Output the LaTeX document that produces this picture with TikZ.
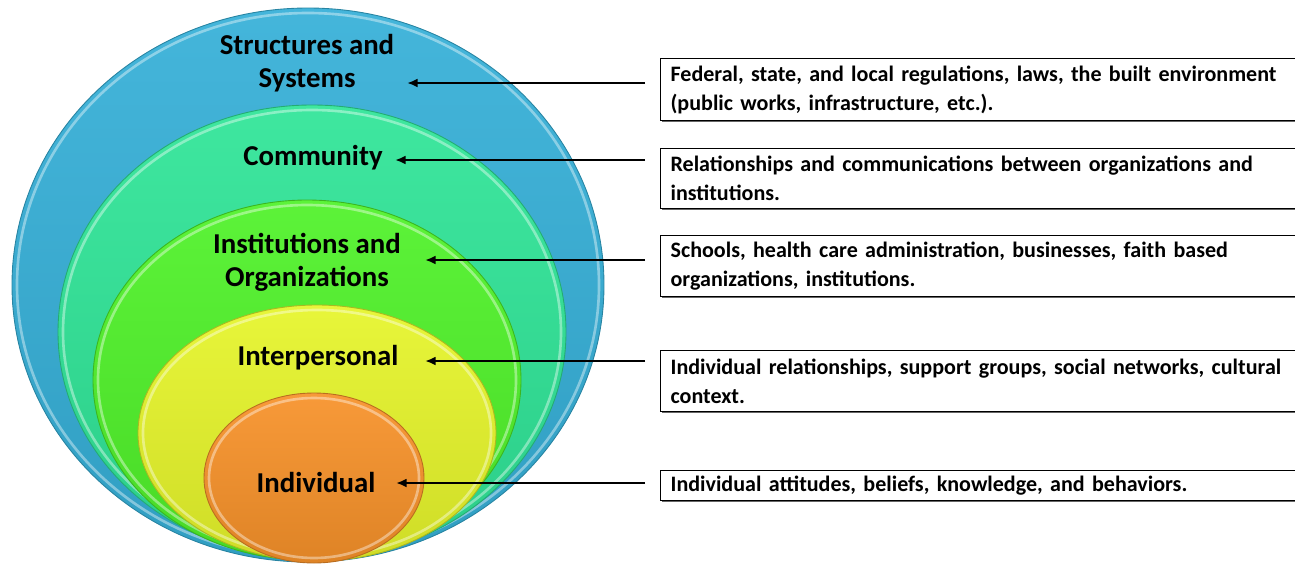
\documentclass[tikz,border=0pt]{standalone}
\usepackage{fontspec}
\setmainfont{Carlito}
\newfontfamily\boxfont[WordSpace=0.8]{Carlito}
\usepackage{tikz}
\usetikzlibrary{arrows.meta,shadows}
\definecolor{skyring}{HTML}{36B0D8}
\definecolor{tealring}{HTML}{30E598}
\definecolor{limering}{HTML}{50F22A}
\definecolor{lemonring}{HTML}{E6F52B}
\definecolor{orangering}{HTML}{F7922A}

\begin{document}
\begin{tikzpicture}[x=0.02cm,y=-0.02cm,
        ring/.style={draw=#1!75!black, line width=0.5pt, top color=#1!93!white, bottom color=#1!90!black},
        rim/.style={draw=white, opacity=0.4, line width=1.5pt},
        ringlab/.style={font=\bfseries\fontsize{16.4}{18.7}\selectfont, align=center},
        descbox/.style={draw=black, line width=0.7pt, fill=white, anchor=north west, text width=12.8cm,
            inner xsep=0.2cm, inner ysep=0pt, align=left, font=\boxfont\bfseries\fontsize{12.55}{16.4}\selectfont,
            drop shadow={shadow xshift=0.8pt, shadow yshift=-0.8pt, fill=black!60, opacity=1}},
        pointer/.style={-{Latex[length=6pt,width=5pt]}, line width=1.5pt}]
        \useasboundingbox (0,0) rectangle (1295,565);
        \clip (0,0) rectangle (1295,565);
        \foreach \cx/\cy/\rx/\ry/\col in {308/285/296/277/skyring, 312/332/254/227/tealring,
                307/380/214/180/limering, 317/433/179/128/lemonring, 314/478/110/85/orangering}{
            \draw[ring=\col] (\cx,\cy) ellipse [x radius=\rx, y radius=\ry];
            \draw[rim] (\cx,\cy) ellipse [x radius=\rx-5, y radius=\ry-5];
        }
        \node[ringlab] (lab1) at (307,63) {Structures and\\Systems};
        \node[ringlab] (lab2) at (313,158) {Community};
        \node[ringlab] (lab3) at (307,262) {Institutions and\\Organizations};
        \node[ringlab] (lab4) at (318,358) {Interpersonal};
        \node[ringlab] (lab5) at (316,482) {Individual};
        \node[descbox, minimum height=1.24cm] (b1) at (660,58) {Federal, state, and local regulations, laws, the built environment\\(public works, infrastructure, etc.).};
        \node[descbox, minimum height=1.2cm] (b2) at (660,148) {Relationships and communications between organizations and\\institutions.};
        \node[descbox, minimum height=1.22cm] (b3) at (660,235) {Schools, health care administration, businesses, faith based\\organizations, institutions.};
        \node[descbox, minimum height=1.22cm] (b4) at (660,350) {Individual relationships, support groups, social networks, cultural\\context.};
        \node[descbox, minimum height=0.6cm] (b5) at (660,470) {Individual attitudes, beliefs, knowledge, and behaviors.};
        \coordinate (t1) at (407,83);
        \coordinate (t2) at (395,160);
        \coordinate (t3) at (425,260);
        \coordinate (t4) at (425,361);
        \coordinate (t5) at (396,483);
        \draw[pointer] ([xshift=-0.3cm]b1.west |- t1) -- (t1);
        \draw[pointer] ([xshift=-0.3cm]b2.west |- t2) -- (t2);
        \draw[pointer] ([xshift=-0.3cm]b3.west |- t3) -- (t3);
        \draw[pointer] ([xshift=-0.3cm]b4.west |- t4) -- (t4);
        \draw[pointer] ([xshift=-0.3cm]b5.west |- t5) -- (t5);
\end{tikzpicture}
\end{document}
